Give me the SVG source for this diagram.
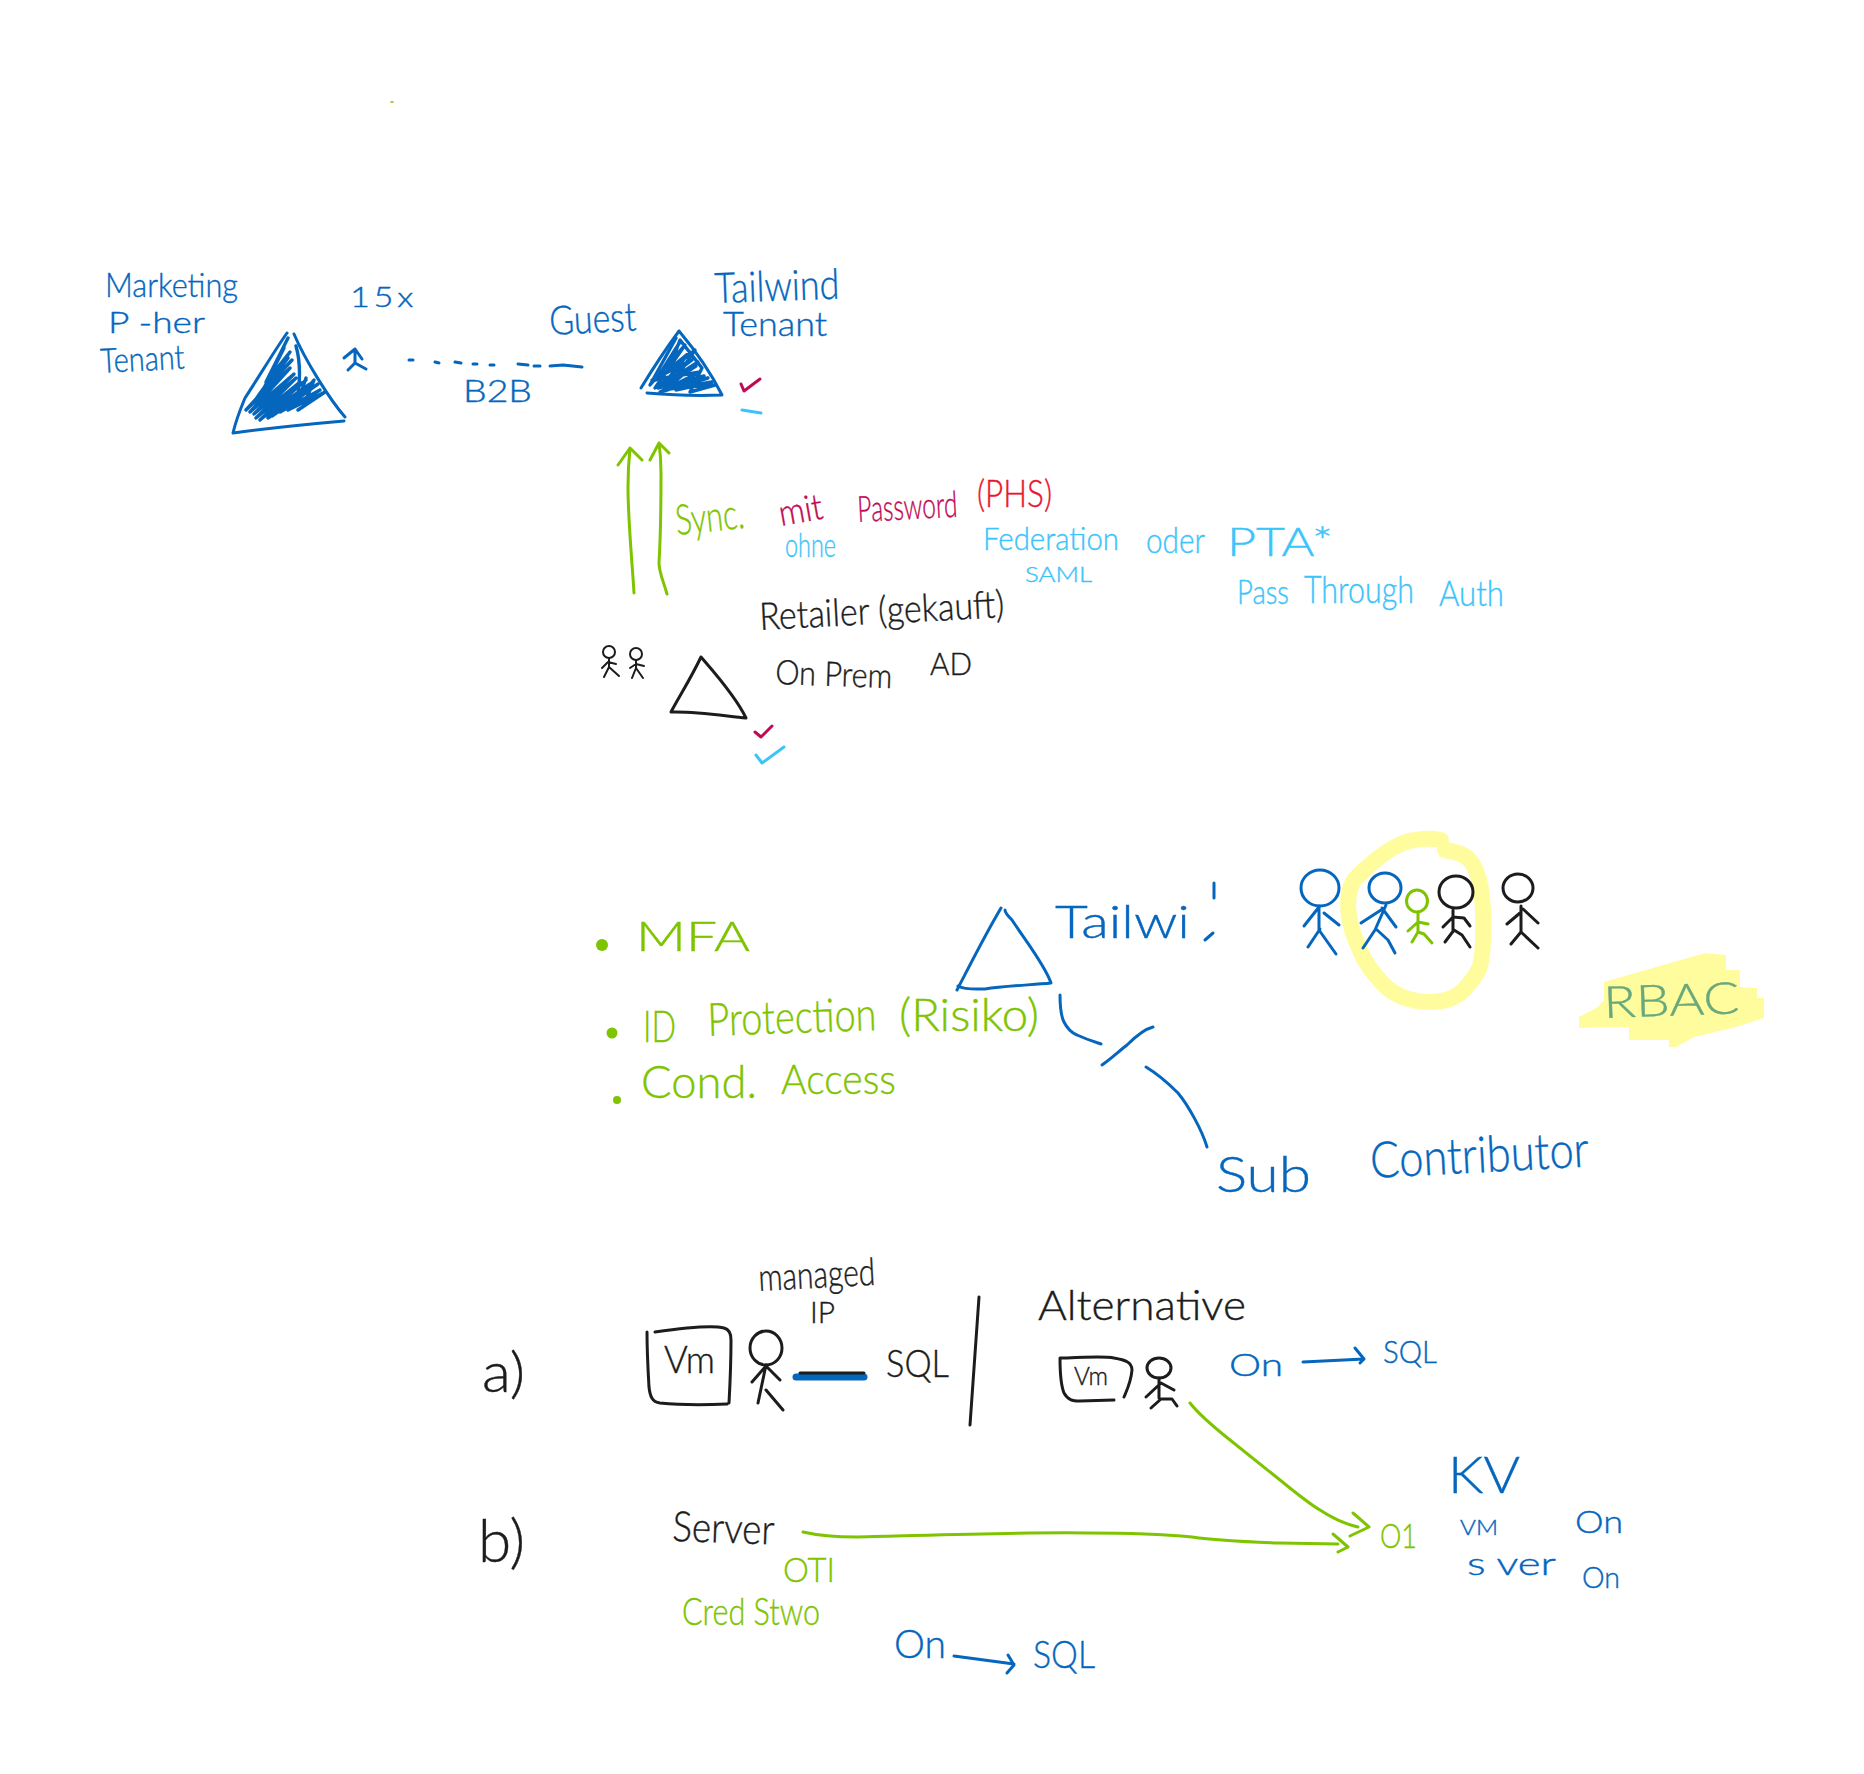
<svg xmlns="http://www.w3.org/2000/svg" width="1864" height="1774" viewBox="0 0 1864 1774">
<style>
text{font-family:"Lato","Liberation Sans",sans-serif;font-weight:300}
.b{fill:#0566bd;stroke:#0566bd;stroke-width:.4}.g{fill:#7fc400;stroke:#7fc400;stroke-width:.4}.c{fill:#c00a55;stroke:#c00a55;stroke-width:.4}.r{fill:#e8162e;stroke:#e8162e;stroke-width:.4}.y{fill:#3cc4fa;stroke:#3cc4fa;stroke-width:.4}.k{fill:#1c1c1c;stroke:#1c1c1c;stroke-width:.4}.t{fill:#68a87c;stroke:#68a87c;stroke-width:.4}
path,ellipse.s{fill:none;stroke-width:3;stroke-linecap:round;stroke-linejoin:round}
.sb{stroke:#0566bd}.sg{stroke:#7fc400}.sk{stroke:#1c1c1c}.sc{stroke:#c00a55}.sy{stroke:#3cc4fa}
.hl{stroke:#fffc9e;stroke-width:16}
</style>
<rect width="1864" height="1774" fill="#fff"/>
<path class="sg" d="M391 102h2" style="stroke-width:1.5"/>

<g id="highlights">
<path class="hl" d="M1441 840C1430 838 1412 838 1399 845C1385 851 1365 868 1354 880C1348 890 1347 902 1349 916C1351 930 1354 936 1359 948C1364 962 1372 972 1383 984C1394 996 1412 1002 1430 1002C1448 1002 1460 996 1468 985C1480 971 1483 965 1483 935C1484 910 1482 890 1478 876C1472 858 1465 853 1445 850"/>
<polygon fill="#fffc9e" points="1604,982 1705,953 1726,955 1726,970 1740,970 1740,987 1757,988 1757,998 1764,998 1764,1018 1736,1027 1694,1037 1676,1047 1669,1047 1669,1040 1629,1040 1629,1027 1602,1027 1579,1028 1579,1017 1598,1007 1604,1000"/>
</g>

<g id="connectors">
<path class="sb" d="M409 360h4M435 362l4 1M455 362l6 1M473 364h4M490 365h4M518 364l10 1M534 366h6M550 366l13-1l19 2"/>
<path class="sg" d="M634 593C632 560 628 520 628 487C628 470 629 458 630 448M618 465L630 448L642 460"/>
<path class="sg" d="M667 594C663 580 659 572 659 563C661 530 661 500 661 473C661 460 660 450 659 443M650 460L659 443L669 453"/>
<path class="sb" d="M1060 995C1060 1010 1062 1018 1064 1022C1068 1030 1072 1033 1077 1035C1088 1040 1095 1042 1101 1044"/>
<path class="sb" d="M1102 1065C1112 1058 1118 1052 1127 1045C1135 1037 1145 1029 1153 1027"/>
<path class="sb" d="M1146 1067C1156 1073 1168 1083 1178 1093C1188 1105 1202 1130 1207 1147"/>
<path class="sb" d="M1303 1362L1364 1359M1355 1348L1364 1359L1360 1363"/>
<path class="sg" d="M1190 1403C1200 1416 1215 1428 1230 1440L1280 1480C1295 1492 1308 1503 1320 1510C1332 1518 1345 1524 1358 1527M1353 1513L1369 1527L1350 1536"/>
<path class="sg" d="M803 1532C820 1536 838 1537 857 1537C940 1535 1020 1532 1088 1533C1130 1533 1160 1534 1192 1537C1220 1541 1250 1542 1280 1543L1338 1544M1333 1534L1348 1547L1338 1552"/>
<path class="sb" d="M954 1656L1014 1664M1008 1655L1014 1665L1007 1673"/>
</g>

<g id="marketing-tenant">
<path class="sb" d="M294 334C305 360 330 400 345 417M344 421C310 424 270 428 233 433C236 420 240 410 245 398C260 375 275 350 287 333"/>
<path class="sb" style="stroke-width:3.4" d="M288 338L266 382L290 352L258 396L292 360L246 410L290 368L250 412L294 374L254 414L296 378L256 418L300 382L260 420L306 380L262 418L310 384L268 418L312 388L272 416L318 384L280 412L320 390L288 410L325 392L298 410M284 348L262 392L288 358L252 404L286 372M296 346C300 360 300 380 298 395M306 378L300 396L314 380L306 400"/>
<text class="b" x="105" y="297" font-size="34" textLength="133" lengthAdjust="spacingAndGlyphs">Marketing</text>
<text class="b" x="108" y="333" font-size="30" textLength="97" lengthAdjust="spacingAndGlyphs">P -her</text>
<text class="b" x="101" y="373" font-size="34" textLength="84" lengthAdjust="spacingAndGlyphs" transform="rotate(-3 101 373)">Tenant</text>
</g>
<g id="count"><text class="b" x="350" y="307" font-size="28" textLength="67" lengthAdjust="spacingAndGlyphs" letter-spacing="3">15x</text>
<path class="sb" d="M344 358L355 349L362 359M355 349V363M355 363L348 370M355 363L366 369"/></g>
<g id="b2b"><text class="b" x="463" y="402" font-size="32" textLength="69" lengthAdjust="spacingAndGlyphs">B2B</text></g>
<g id="guest"><text class="b" x="550" y="335" font-size="40" textLength="87" lengthAdjust="spacingAndGlyphs" transform="rotate(-3 550 335)">Guest</text></g>

<g id="tailwind-tenant">
<path class="sb" d="M679 331C695 350 712 375 722 395C700 396 670 395 647 393M641 388C652 370 665 350 679 331"/>
<path class="sb" style="stroke-width:3.4" d="M676 338L650 385L685 345L655 388L692 360L652 380L700 372L660 392L708 378L670 388L715 385L690 392L702 368L680 340L668 372L695 350L672 384L698 362L658 388L704 376L664 390L712 382L676 390M680 342L656 380L690 352L662 386L696 366L668 384"/>
<text class="b" x="715" y="303" font-size="42" textLength="125" lengthAdjust="spacingAndGlyphs" transform="rotate(-2 715 303)">Tailwind</text>
<text class="b" x="723" y="336" font-size="34" textLength="104" lengthAdjust="spacingAndGlyphs">Tenant</text>
<path class="sc" d="M741 384L744 391L760 379"/>
<path class="sy" d="M742 410L761 413"/>
</g>

<g id="sync-labels">
<text class="g" x="677" y="535" font-size="42" textLength="69" lengthAdjust="spacingAndGlyphs" transform="rotate(-6 677 535)">Sync.</text>
<text class="c" x="781" y="526" font-size="36" textLength="44" lengthAdjust="spacingAndGlyphs" transform="rotate(-10 781 526)">mit</text>
<text class="c" x="858" y="522" font-size="36" textLength="100" lengthAdjust="spacingAndGlyphs" transform="rotate(-3 858 522)">Password</text>
<text class="r" x="977" y="507" font-size="38" textLength="75" lengthAdjust="spacingAndGlyphs">(PHS)</text>
<text class="y" x="785" y="557" font-size="34" textLength="51" lengthAdjust="spacingAndGlyphs">ohne</text>
<text class="y" x="983" y="550" font-size="32" textLength="136" lengthAdjust="spacingAndGlyphs">Federation</text>
<text class="y" x="1146" y="553" font-size="36" textLength="59" lengthAdjust="spacingAndGlyphs">oder</text>
<text class="y" x="1227" y="556" font-size="40" textLength="106" lengthAdjust="spacingAndGlyphs">PTA*</text>
<text class="y" x="1025" y="582" font-size="22" textLength="67" lengthAdjust="spacingAndGlyphs">SAML</text>
<text class="y" x="1237" y="604" font-size="34" textLength="52" lengthAdjust="spacingAndGlyphs">Pass</text>
<text class="y" x="1304" y="603" font-size="38" textLength="110" lengthAdjust="spacingAndGlyphs">Through</text>
<text class="y" x="1439" y="606" font-size="36" textLength="65" lengthAdjust="spacingAndGlyphs">Auth</text>
</g>

<g id="retailer">
<text class="k" x="760" y="630" font-size="38" textLength="245" lengthAdjust="spacingAndGlyphs" transform="rotate(-3 760 630)">Retailer (gekauft)</text>
<text class="k" x="775" y="684" font-size="34" textLength="117" lengthAdjust="spacingAndGlyphs" transform="rotate(2 775 684)">On Prem</text>
<text class="k" x="930" y="675" font-size="32" textLength="42" lengthAdjust="spacingAndGlyphs">AD</text>
<path class="sk" d="M701 657C690 680 680 695 671 712C695 711 725 716 746 718C735 695 712 670 701 657"/>
<path class="sc" d="M755 732L761 737L772 726"/>
<path class="sy" d="M756 755L762 763L784 747"/>
<ellipse class="s sk" style="stroke-width:2" cx="609" cy="652" rx="6" ry="6"/>
<path class="sk" style="stroke-width:2" d="M609 658V667L604 677M609 667L619 676M602 668L608 662L616 664"/>
<ellipse class="s sk" style="stroke-width:2" cx="636" cy="654" rx="6" ry="6"/>
<path class="sk" style="stroke-width:2" d="M636 660V668L632 678M636 668L643 678M630 668L636 664L644 666"/>
</g>

<g id="features">
<circle cx="602" cy="945" r="6" fill="#7fc400"/>
<text class="g" x="636" y="951" font-size="42" textLength="114" lengthAdjust="spacingAndGlyphs">MFA</text>
<circle cx="612" cy="1033" r="5.5" fill="#7fc400"/>
<text class="g" x="643" y="1042" font-size="44" textLength="33" lengthAdjust="spacingAndGlyphs">ID</text>
<text class="g" x="708" y="1036" font-size="46" textLength="169" lengthAdjust="spacingAndGlyphs" transform="rotate(-2 708 1036)">Protection</text>
<text class="g" x="899" y="1031" font-size="46" textLength="140" lengthAdjust="spacingAndGlyphs">(Risiko)</text>
<circle cx="617" cy="1100" r="4" fill="#7fc400"/>
<text class="g" x="641" y="1098" font-size="46" textLength="116" lengthAdjust="spacingAndGlyphs">Cond.</text>
<text class="g" x="781" y="1094" font-size="42" textLength="115" lengthAdjust="spacingAndGlyphs">Access</text>
</g>

<g id="tailwind">
<path class="sb" d="M1001 908C985 935 970 965 957 990M958 986C965 990 975 989 985 989C1005 986 1030 985 1051 983C1045 965 1025 940 1012 920C1007 915 1005 912 1005 910"/>
<text class="b" x="1055" y="938" font-size="46" textLength="135" lengthAdjust="spacingAndGlyphs">Tailwi</text>
<path class="sb" d="M1214 883V898M1205 940L1213 933"/>
</g>

<g id="people">
<ellipse class="s sb" cx="1320" cy="888" rx="19" ry="18"/>
<path class="sb" d="M1319 906V930M1304 926L1319 907M1324 913L1339 925M1320 929L1308 947M1319 930L1336 954"/>
<ellipse class="s sb" cx="1385" cy="888" rx="16" ry="15"/>
<path class="sb" d="M1386 905L1375 930M1361 923L1381 910M1382 908L1396 927M1375 930L1363 948M1376 929L1388 940L1395 953"/>
<ellipse class="s sg" cx="1417" cy="901" rx="10.5" ry="11"/>
<path class="sg" d="M1418 912V932M1408 931L1418 922L1428 924M1412 942L1418 932L1424 934L1432 943"/>
<ellipse class="s sk" cx="1456" cy="892" rx="17" ry="16"/>
<path class="sk" d="M1453 910V930M1443 927L1453 917L1464 918L1470 926M1445 942L1454 930L1462 935L1470 947"/>
<ellipse class="s sk" cx="1518" cy="888" rx="15" ry="14"/>
<path class="sk" d="M1521 906V932M1507 924L1520 913M1523 909L1538 923M1511 944L1521 932L1538 948"/>
</g>
<g id="rbac"><text class="t" x="1604" y="1018" font-size="44" textLength="136" lengthAdjust="spacingAndGlyphs" transform="rotate(-2 1604 1018)">RBAC</text></g>
<g id="sub-contributor">
<text class="b" x="1216" y="1192" font-size="50" textLength="95" lengthAdjust="spacingAndGlyphs">Sub</text>
<text class="b" x="1371" y="1178" font-size="50" textLength="219" lengthAdjust="spacingAndGlyphs" transform="rotate(-3 1371 1178)">Contributor</text>
</g>

<g id="row-a">
<text class="k" x="482" y="1392" font-size="56" textLength="43" lengthAdjust="spacingAndGlyphs">a)</text>
<text class="k" x="759" y="1291" font-size="38" textLength="117" lengthAdjust="spacingAndGlyphs" transform="rotate(-3 759 1291)">managed</text>
<text class="k" x="810" y="1323" font-size="30" textLength="25" lengthAdjust="spacingAndGlyphs">IP</text>
<path class="sk" d="M647 1332C647 1350 648 1370 649 1387C650 1396 652 1402 660 1403C680 1405 705 1405 727 1404M729 1403C730 1385 731 1360 731 1340C731 1332 728 1329 724 1328C712 1325 690 1327 655 1332"/>
<text class="k" x="664" y="1373" font-size="38" textLength="51" lengthAdjust="spacingAndGlyphs">Vm</text>
<ellipse class="s sk" cx="766" cy="1348" rx="16" ry="17"/>
<path class="sk" d="M766 1365L758 1403M752 1382L766 1366L780 1380M766 1390L783 1410"/>
<path d="M796 1377H864" stroke="#0566bd" style="stroke-width:7"/>
<path d="M800 1373H864" stroke="#1c1c1c" style="stroke-width:3"/>
<text class="k" x="886" y="1377" font-size="38" textLength="63" lengthAdjust="spacingAndGlyphs">SQL</text>
<path class="sk" d="M979 1297L970 1425"/>
</g>
<g id="alternative">
<text class="k" x="1038" y="1320" font-size="42" textLength="208" lengthAdjust="spacingAndGlyphs">Alternative</text>
<path class="sk" d="M1067 1358L1060 1358C1060 1375 1062 1388 1064 1393C1068 1400 1072 1401 1080 1401L1114 1400M1067 1358C1085 1357 1105 1356 1114 1358C1125 1360 1132 1362 1132 1370C1131 1382 1127 1390 1124 1397"/>
<text class="k" x="1074" y="1385" font-size="26" textLength="34" lengthAdjust="spacingAndGlyphs">Vm</text>
<ellipse class="s sk" cx="1159" cy="1368" rx="12" ry="10"/>
<path class="sk" d="M1159 1378V1398M1146 1397L1161 1383L1174 1390M1151 1408L1161 1399L1172 1399L1177 1406"/>
<text class="b" x="1229" y="1376" font-size="32" textLength="54" lengthAdjust="spacingAndGlyphs">On</text>
<text class="b" x="1383" y="1363" font-size="32" textLength="54" lengthAdjust="spacingAndGlyphs">SQL</text>
</g>

<g id="row-b">
<text class="k" x="478" y="1562" font-size="60" textLength="47" lengthAdjust="spacingAndGlyphs">b)</text>
<text class="k" x="672" y="1541" font-size="42" textLength="102" lengthAdjust="spacingAndGlyphs" transform="rotate(2 672 1541)">Server</text>
<text class="g" x="783" y="1582" font-size="34" textLength="52" lengthAdjust="spacingAndGlyphs">OTI</text>
<text class="g" x="682" y="1625" font-size="38" textLength="138" lengthAdjust="spacingAndGlyphs">Cred Stwo</text>
<text class="b" x="894" y="1658" font-size="40" textLength="52" lengthAdjust="spacingAndGlyphs">On</text>
<text class="b" x="1033" y="1668" font-size="38" textLength="62" lengthAdjust="spacingAndGlyphs">SQL</text>
</g>

<g id="key-vault">
<text class="g" x="1380" y="1548" font-size="34" textLength="37" lengthAdjust="spacingAndGlyphs">O1</text>
<text class="b" x="1448" y="1493" font-size="52" textLength="72" lengthAdjust="spacingAndGlyphs">KV</text>
<text class="b" x="1460" y="1535" font-size="22" textLength="38" lengthAdjust="spacingAndGlyphs">VM</text>
<text class="b" x="1575" y="1533" font-size="32" textLength="48" lengthAdjust="spacingAndGlyphs">On</text>
<text class="b" x="1467" y="1575" font-size="32" textLength="89" lengthAdjust="spacingAndGlyphs">s ver</text>
<text class="b" x="1582" y="1588" font-size="30" textLength="38" lengthAdjust="spacingAndGlyphs">On</text>
</g>
</svg>
